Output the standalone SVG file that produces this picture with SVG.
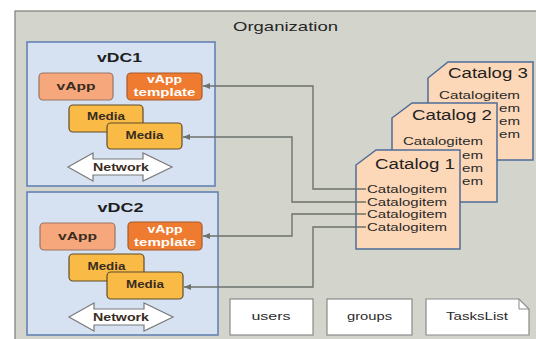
<svg xmlns="http://www.w3.org/2000/svg" width="536" height="339" viewBox="0 0 536 339">
  <style>
    text { font-family: "Liberation Sans", Arial, sans-serif; fill: #262626; }
    .org { fill: #d3d5cd; stroke: #7b7d77; stroke-width: 1.2; }
    .vdc { fill: #d6e2f2; stroke: #5d7cae; stroke-width: 1.5; }
    .vapp { fill: #f6a87c; stroke: #9a7562; stroke-width: 1.2; }
    .tmpl { fill: #ee7b2f; stroke: #a65a2a; stroke-width: 1.2; }
    .media { fill: #f9bb45; stroke: #5e4c2c; stroke-width: 1.2; }
    .net { fill: #ffffff; stroke: #7a7a7a; stroke-width: 1.2; }
    .cat { fill: #fdd8b8; stroke: #4e6c98; stroke-width: 1.5; }
    .plain { fill: #ffffff; stroke: #8a8a8a; stroke-width: 1.2; }
    .title { font-size: 13px; font-weight: bold; fill: #1e1e1e; }
    .lbl { font-size: 11px; font-weight: bold; fill: #3a2c22; }
    .wlbl { font-size: 11px; font-weight: bold; fill: #ffffff; }
    .ctitle { font-size: 14px; fill: #222222; }
    .item { font-size: 11px; fill: #2a2a2a; }
    .small { font-size: 11px; fill: #2a2a2a; }
    .conn { fill: none; stroke: #6d726c; stroke-width: 1.4; marker-end: url(#arr); }
  </style>
  <defs>
    <marker id="arr" markerUnits="userSpaceOnUse" markerWidth="8" markerHeight="7" refX="7" refY="3.5" orient="auto">
      <path d="M0,0.5 L7,3.5 L0,6.5 z" fill="#6d726c"/>
    </marker>
  </defs>

  <rect width="536" height="339" fill="#ffffff"/>

  <g id="organization">
    <rect class="org" x="15" y="11" width="530" height="340"/>
    <text x="285.5" y="31" font-size="13" text-anchor="middle" textLength="105" lengthAdjust="spacingAndGlyphs">Organization</text>
  </g>

  <!-- virtual datacenter 1 -->
  <g id="vdc1">
    <rect class="vdc" x="27" y="42" width="188" height="144"/>
    <text class="title" x="119.5" y="62" text-anchor="middle" textLength="45" lengthAdjust="spacingAndGlyphs">vDC1</text>
    <g id="vdc1-vapp">
      <rect class="vapp" x="39" y="73" width="74" height="27" rx="4"/>
      <text class="lbl" x="76" y="90" text-anchor="middle" textLength="39" lengthAdjust="spacingAndGlyphs">vApp</text>
    </g>
    <g id="vdc1-template">
      <rect class="tmpl" x="127" y="73" width="75" height="27" rx="4"/>
      <text class="wlbl" x="164.5" y="83" text-anchor="middle" textLength="35" lengthAdjust="spacingAndGlyphs">vApp</text>
      <text class="wlbl" x="164.5" y="96" text-anchor="middle" textLength="62" lengthAdjust="spacingAndGlyphs">template</text>
    </g>
    <g id="vdc1-media-a">
      <rect class="media" x="69" y="105" width="74" height="27" rx="4"/>
      <text class="lbl" x="106" y="120" text-anchor="middle" textLength="38" lengthAdjust="spacingAndGlyphs">Media</text>
    </g>
    <g id="vdc1-media-b">
      <rect class="media" x="107" y="123" width="75" height="26" rx="4"/>
      <text class="lbl" x="144.5" y="139" text-anchor="middle" textLength="38" lengthAdjust="spacingAndGlyphs">Media</text>
    </g>
    <g id="vdc1-network">
      <polygon class="net" points="68,167 93,153 93,159 143,159 143,153 172,167 143,181 143,175 93,175 93,181"/>
      <text class="lbl" x="121" y="171" text-anchor="middle" textLength="56" lengthAdjust="spacingAndGlyphs">Network</text>
    </g>
  </g>

  <!-- virtual datacenter 2 -->
  <g id="vdc2">
    <rect class="vdc" x="27" y="192" width="191" height="143"/>
    <text class="title" x="120.5" y="212" text-anchor="middle" textLength="46" lengthAdjust="spacingAndGlyphs">vDC2</text>
    <g id="vdc2-vapp">
      <rect class="vapp" x="40" y="223" width="75" height="27" rx="4"/>
      <text class="lbl" x="77.5" y="240" text-anchor="middle" textLength="39" lengthAdjust="spacingAndGlyphs">vApp</text>
    </g>
    <g id="vdc2-template">
      <rect class="tmpl" x="128" y="222" width="74" height="28" rx="4"/>
      <text class="wlbl" x="165" y="233" text-anchor="middle" textLength="35" lengthAdjust="spacingAndGlyphs">vApp</text>
      <text class="wlbl" x="165" y="246" text-anchor="middle" textLength="62" lengthAdjust="spacingAndGlyphs">template</text>
    </g>
    <g id="vdc2-media-a">
      <rect class="media" x="69" y="254" width="75" height="27" rx="4"/>
      <text class="lbl" x="106.5" y="270" text-anchor="middle" textLength="38" lengthAdjust="spacingAndGlyphs">Media</text>
    </g>
    <g id="vdc2-media-b">
      <rect class="media" x="107" y="272" width="76" height="27" rx="4"/>
      <text class="lbl" x="145" y="288" text-anchor="middle" textLength="38" lengthAdjust="spacingAndGlyphs">Media</text>
    </g>
    <g id="vdc2-network">
      <polygon class="net" points="69,317 94,303 94,309 144,309 144,303 173,317 144,331 144,325 94,325 94,331"/>
      <text class="lbl" x="121" y="321" text-anchor="middle" textLength="56" lengthAdjust="spacingAndGlyphs">Network</text>
    </g>
  </g>

  <!-- catalogs, back to front; rows tucked behind the next sheet show only their tail -->
  <g id="catalog3">
    <polygon class="cat" points="428,78 448,62 533,62 533,160 428,160"/>
    <text class="ctitle" x="448" y="78" textLength="80" lengthAdjust="spacingAndGlyphs">Catalog 3</text>
    <text class="item" x="439" y="99" textLength="81" lengthAdjust="spacingAndGlyphs">Catalogitem</text>
    <text class="item" x="499" y="112" textLength="21" lengthAdjust="spacingAndGlyphs">em</text>
    <text class="item" x="499" y="125" textLength="21" lengthAdjust="spacingAndGlyphs">em</text>
    <text class="item" x="499" y="138" textLength="21" lengthAdjust="spacingAndGlyphs">em</text>
  </g>
  <g id="catalog2">
    <polygon class="cat" points="392,118 412,103 497,103 497,202 392,202"/>
    <text class="ctitle" x="412" y="120" textLength="80" lengthAdjust="spacingAndGlyphs">Catalog 2</text>
    <text class="item" x="403" y="145" textLength="80" lengthAdjust="spacingAndGlyphs">Catalogitem</text>
    <text class="item" x="462" y="159" textLength="21" lengthAdjust="spacingAndGlyphs">em</text>
    <text class="item" x="462" y="172" textLength="21" lengthAdjust="spacingAndGlyphs">em</text>
    <text class="item" x="462" y="185" textLength="21" lengthAdjust="spacingAndGlyphs">em</text>
  </g>
  <g id="catalog1">
    <polygon class="cat" points="356,165 376,150 460,150 460,249 356,249"/>
    <text class="ctitle" x="375" y="169" textLength="80" lengthAdjust="spacingAndGlyphs">Catalog 1</text>
    <text class="item" x="367" y="193" textLength="80" lengthAdjust="spacingAndGlyphs">Catalogitem</text>
    <text class="item" x="367" y="205.5" textLength="80" lengthAdjust="spacingAndGlyphs">Catalogitem</text>
    <text class="item" x="367" y="218" textLength="80" lengthAdjust="spacingAndGlyphs">Catalogitem</text>
    <text class="item" x="367" y="230.5" textLength="80" lengthAdjust="spacingAndGlyphs">Catalogitem</text>
  </g>

  <!-- catalog items referenced by vDC contents -->
  <g id="connectors">
    <path class="conn" d="M366,189 H313 V86 H203"/>
    <path class="conn" d="M366,202 H292 V137 H183"/>
    <path class="conn" d="M366,214 H292 V236 H203"/>
    <path class="conn" d="M366,227 H313 V287 H184"/>
  </g>

  <g id="users">
    <rect class="plain" x="230" y="299" width="83" height="36"/>
    <text class="small" x="271" y="320" text-anchor="middle" textLength="39" lengthAdjust="spacingAndGlyphs">users</text>
  </g>
  <g id="groups">
    <rect class="plain" x="327" y="299" width="85" height="36"/>
    <text class="small" x="369.5" y="320" text-anchor="middle" textLength="45" lengthAdjust="spacingAndGlyphs">groups</text>
  </g>
  <g id="taskslist">
    <path class="plain" d="M426,299 H519 L529,309 V335 H426 Z"/>
    <path d="M519,299 V309 H529" fill="none" stroke="#8a8a8a" stroke-width="1"/>
    <text class="small" x="477" y="320" text-anchor="middle" textLength="62" lengthAdjust="spacingAndGlyphs">TasksList</text>
  </g>
</svg>
